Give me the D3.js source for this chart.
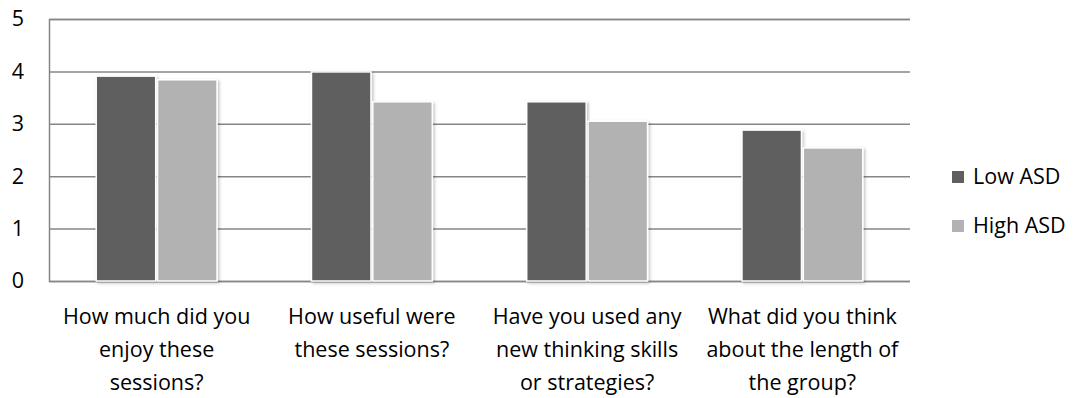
<!DOCTYPE html>
<html>
<head>
<meta charset="UTF-8">
<title>ASD group feedback</title>
<script src="https://cdn.jsdelivr.net/npm/d3@7" type="text/javascript"></script>
<style>
  body { margin: 0; background: #fff; }
  text { font-family: "Open Sans", Lato, sans-serif; fill: #000; }
</style>
</head>
<body>
<div id="chart"></div>
<script type="text/javascript">
// chart data
var categories = [
  ["How much did you", "enjoy these", "sessions?"],
  ["How useful were", "these sessions?"],
  ["Have you used any", "new thinking skills", "or strategies?"],
  ["What did you think", "about the length of", "the group?"]
];
var seriesNames = ["Low ASD", "High ASD"];
var lowASD = [3.91, 3.99, 3.42, 2.88];
var highASD = [3.84, 3.42, 3.05, 2.54];
var yTicks = [0, 1, 2, 3, 4, 5];

var colors = ["#5f5f5f", "#b2b2b2"];
var width = 1081, height = 398;
var margin = {top: 19, right: 171, bottom: 117, left: 49};
var fontSize = "21.5px";

var svg = d3.select("#chart").append("svg")
  .attr("width", width)
  .attr("height", height);

// soft shadow behind bars
var defs = svg.append("defs");
var f = defs.append("filter").attr("id", "shadow")
  .attr("x", "-20%").attr("y", "-10%").attr("width", "140%").attr("height", "120%");
f.append("feDropShadow").attr("dx", 1.5).attr("dy", 1.5).attr("stdDeviation", 1.5)
  .attr("flood-color", "#000").attr("flood-opacity", 0.25);

var x0 = d3.scaleBand()
  .domain(d3.range(categories.length))
  .range([margin.left, width - margin.right])
  .padding(0);

var x1 = d3.scaleBand()
  .domain(d3.range(seriesNames.length))
  .range([0, x0.bandwidth()])
  .paddingInner(0.03)
  .paddingOuter(0.77);

var y = d3.scaleLinear()
  .domain([0, 5])
  .range([height - margin.bottom, margin.top]);

// gridlines + y labels
var yAxis = d3.axisLeft(y)
  .tickValues(yTicks)
  .tickSize(-(width - margin.right - margin.left))
  .tickFormat(d3.format("d"))
  .tickPadding(25);

var gy = svg.append("g")
  .attr("transform", "translate(" + margin.left + ",0)")
  .call(yAxis);
gy.select(".domain").attr("stroke", "#868686").attr("stroke-width", 1.5);
gy.selectAll(".tick line").attr("stroke", "#868686").attr("stroke-width", 1.5);
gy.selectAll(".tick text").attr("font-size", fontSize).attr("fill", "#000")
  .attr("font-family", "\"Open Sans\", sans-serif");

// bars
var series = [lowASD, highASD];
var groups = svg.append("g").selectAll("g")
  .data(categories.map(function(c, i) { return i; }))
  .enter().append("g")
  .attr("transform", function(i) { return "translate(" + x0(i) + ",0)"; });

groups.selectAll("rect")
  .data(function(i) { return series.map(function(s, k) { return {k: k, v: s[i]}; }); })
  .enter().append("rect")
  .attr("x", function(d) { return x1(d.k); })
  .attr("y", function(d) { return y(d.v); })
  .attr("width", x1.bandwidth())
  .attr("height", function(d) { return y(0) - y(d.v); })
  .attr("fill", function(d) { return colors[d.k]; })
  .attr("stroke", "#fff")
  .attr("stroke-width", 1.5)
  .attr("filter", "url(#shadow)");

// category labels
var labels = svg.append("g").selectAll("text")
  .data(categories)
  .enter().append("text")
  .attr("text-anchor", "middle")
  .attr("font-size", fontSize)
  .attr("x", function(d, i) { return x0(i) + x0.bandwidth() / 2; })
  .attr("y", 324);
labels.selectAll("tspan")
  .data(function(d) { return d; })
  .enter().append("tspan")
  .attr("x", function() { return d3.select(this.parentNode).attr("x"); })
  .attr("dy", function(d, i) { return i === 0 ? 0 : 33; })
  .text(function(d) { return d; });

// legend
var legend = svg.append("g").selectAll("g")
  .data(seriesNames)
  .enter().append("g")
  .attr("transform", function(d, i) { return "translate(952," + (171 + i * 49) + ")"; });
legend.append("rect")
  .attr("width", 12).attr("height", 12)
  .attr("fill", function(d, i) { return colors[i]; });
legend.append("text")
  .attr("x", 21).attr("y", 13)
  .attr("font-size", fontSize)
  .text(function(d) { return d; });
</script>
</body>
</html>
